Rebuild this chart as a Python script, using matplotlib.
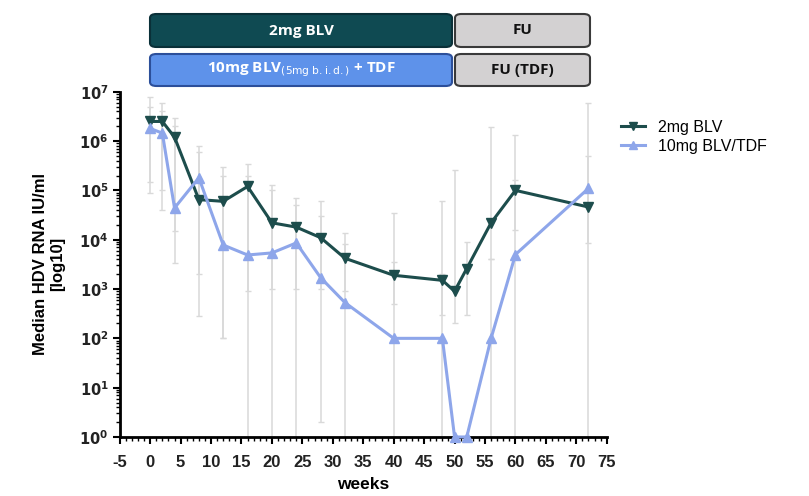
import matplotlib
matplotlib.use("Agg")
import matplotlib.pyplot as plt
import numpy as np
from matplotlib.patches import FancyBboxPatch
from matplotlib.ticker import MultipleLocator, LogLocator, NullFormatter, FixedLocator

plt.rcParams['font.family'] = ['Liberation Sans', 'DejaVu Sans']
plt.rcParams['axes.unicode_minus'] = False

weeks = [0, 2, 4, 8, 12, 16, 20, 24, 28, 32, 40, 48, 50, 52, 56, 60, 72]

blv2_median = [2.5e6, 2.5e6, 1.2e6, 6.5e4, 6.0e4, 1.2e5, 2.2e4, 1.8e4, 1.1e4, 4.2e3,
               1.9e3, 1.5e3, 9.0e2, 2.6e3, 2.2e4, 1.0e5, 4.6e4]
blv2_upper = [8e6, 6e6, 3e6, 8e5, 3e5, 3.5e5, 1.3e5, 7e4, 6e4, 1.4e4,
              3.5e4, 6e4, 2.6e5, 9e3, 1.9e6, 1.3e6, 5e5]
blv2_lower = [1.5e5, 1e5, 1.5e4, 2e3, 1e2, 9e2, 1e3, 1e3, 1e3, 9e2,
              5e2, 3e2, 2e2, 3e2, 4e3, 1.6e4, 8.5e3]

blv10_median = [1.8e6, 1.45e6, 4.4e4, 1.8e5, 7.8e3, 4.9e3, 5.4e3, 8.6e3, 1.7e3, 5.3e2,
                1.0e2, 1.0e2, 1.0, 1.0, 1.0e2, 5.0e3, 1.1e5]
blv10_upper = [5e6, 4e6, 2e6, 6e5, 2e5, 2e5, 1e5, 5e4, 3e4, 8e3,
               3.5e3, 2e3, 1.0, 1.0, 4e3, 1.6e5, 6e6]
blv10_lower = [9e4, 4e4, 3.4e3, 2.8e2, 1e2, 1, 1, 1, 2, 1,
               1, 1, 1.0, 1.0, 1, 1, 1]

series_labels = ["2mg BLV", "10mg BLV/TDF"]
header_row1 = ["2mg BLV", "FU"]
header_row2 = [r"10mg BLV$_{\mathrm{(5mg\ b.i.d.)}}$ + TDF", "FU (TDF)"]

fig = plt.figure(figsize=(8.09, 4.96), dpi=100)
ax = fig.add_axes([0.148, 0.119, 0.602, 0.696])

dark = "#1d4d4c"
light = "#8ea6ea"
errc = "#d9d9d9"

w = np.array(weeks)
for med, up, lo in [(blv2_median, blv2_upper, blv2_lower),
                    (blv10_median, blv10_upper, blv10_lower)]:
    med = np.array(med); up = np.array(up); lo = np.array(lo)
    ax.errorbar(w, med, yerr=[med - lo, up - med], fmt='none', ecolor=errc,
                elinewidth=1.1, capsize=2.5, capthick=1, zorder=1, clip_on=False)
for med, col, mk, lab in [
        (blv2_median, dark, 'v', series_labels[0]),
        (blv10_median, light, '^', series_labels[1])]:
    ax.plot(w, med, color=col, marker=mk, markersize=7, lw=2.2, label=lab,
            zorder=3, clip_on=False)

ax.set_yscale('log')
ax.set_ylim(1, 1e7)
ax.set_xlim(-5, 75)
ax.xaxis.set_major_locator(MultipleLocator(5))
ax.xaxis.set_minor_locator(MultipleLocator(1))
ax.yaxis.set_major_locator(FixedLocator([10.0**k for k in range(8)]))
ax.yaxis.set_minor_locator(LogLocator(base=10, subs=np.arange(2, 10), numticks=20))
ax.yaxis.set_minor_formatter(NullFormatter())
ax.set_yticklabels([r"$\mathbf{10^{%d}}$" % k for k in range(8)])

for s in ['top', 'right']:
    ax.spines[s].set_visible(False)
for s in ['left', 'bottom']:
    ax.spines[s].set_linewidth(2)
ax.tick_params(which='major', length=5, width=1.5, direction='out')
ax.tick_params(axis='x', which='major', labelsize=12, pad=8)
ax.tick_params(axis='y', which='major', labelsize=10.5, pad=3)
ax.tick_params(which='minor', length=3, width=1, direction='out')
for t in ax.get_xticklabels():
    t.set_fontweight('bold')
    t.set_color('#222222')
for t in ax.get_yticklabels():
    t.set_color('#222222')

ax.set_xlabel("weeks", fontsize=12.5, fontweight='bold', labelpad=5)
ax.set_ylabel("Median HDV RNA IU/ml\n[log10]", fontsize=12, fontweight='bold', labelpad=10)

leg = ax.legend(loc='upper left', bbox_to_anchor=(1.0, 0.96), frameon=False,
                fontsize=11.5, handlelength=1.5, labelspacing=0.25, markerscale=0.8)

# header boxes (figure coordinates from pixels)
W, H = 809.0, 496.0
def box(x0, y0, x1, y1, fc, ec, text, tc, fs):
    p = FancyBboxPatch((x0 / W, 1 - y1 / H), (x1 - x0) / W, (y1 - y0) / H,
                       boxstyle="round,pad=0,rounding_size=0.008",
                       transform=fig.transFigure, facecolor=fc, edgecolor=ec,
                       linewidth=1.5)
    fig.add_artist(p)
    fig.text((x0 + x1) / 2 / W, 1 - (y0 + y1) / 2 / H, text, color=tc,
             fontsize=fs, fontweight='bold', ha='center', va='center',
             family=['Open Sans', 'DejaVu Sans'])

box(150, 14, 452, 47, "#0f4a52", "#0a3038", header_row1[0], "white", 11)
box(455, 14, 590, 47, "#d3d1d2", "#3a3a3a", header_row1[1], "#111111", 11)
box(150, 54, 452, 86, "#5e92ea", "#2c4f9a", header_row2[0], "white", 11)
box(455, 54, 590, 86, "#d3d1d2", "#3a3a3a", header_row2[1], "#111111", 11)

fig.savefig("out.png", dpi=100)
